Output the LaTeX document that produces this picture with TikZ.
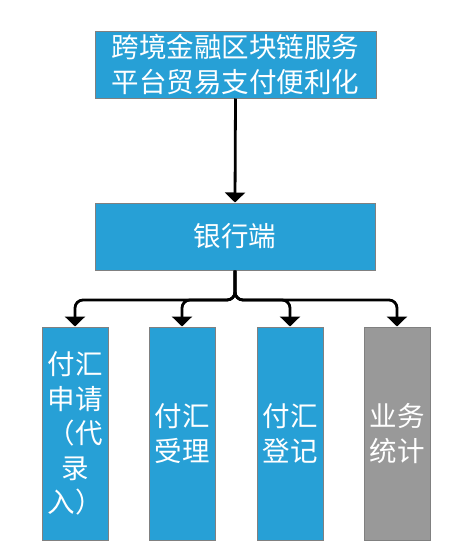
\documentclass[tikz,border=0pt]{standalone}
\usepackage{fontspec}
\setmainfont{Noto Sans CJK SC}
\usetikzlibrary{arrows.meta,calc}
\definecolor{boxblue}{HTML}{27A0D6}
\definecolor{boxgray}{HTML}{999999}
\definecolor{edgegray}{HTML}{808080}
\tikzset{
  box/.style={draw=edgegray, line width=1pt, fill=boxblue, text=white, inner sep=0pt,
    align=center, font=\fontsize{27.5}{34.5}\selectfont},
  graybox/.style={box, fill=boxgray},
  conn/.style={draw=black, line width=2.8pt, -{Triangle[width=20pt,length=10pt]}},
}
\begin{document}
\begin{tikzpicture}[x=1pt,y=-1pt]
\useasboundingbox (0,0) rectangle (461,557);
\node[box, minimum width=281pt, minimum height=67pt] (top) at (235.5,64.5) {跨境金融区块链服务\\平台贸易支付便利化};
\node[box, minimum width=280pt, minimum height=67pt] (mid) at (235,236.5) {银行端};
\node[box, minimum width=66pt, minimum height=213pt] (c1) at (75,433.5) {付汇\\申请\\（代\\录\\入）};
\node[box, minimum width=66pt, minimum height=213pt] (c2) at (182,433.5) {付汇\\受理};
\node[box, minimum width=66pt, minimum height=213pt] (c3) at (290,433.5) {付汇\\登记};
\node[graybox, minimum width=66pt, minimum height=213pt] (c4) at (397,433.5) {业务\\统计};
\coordinate (j) at (235,300);
\draw[conn] (top.south) -- (mid.north);
\foreach \c in {c1,c2,c3,c4}{
  \draw[conn, rounded corners=8pt] (mid.south) -- (j) -| (\c.north);
}
\end{tikzpicture}
\end{document}
